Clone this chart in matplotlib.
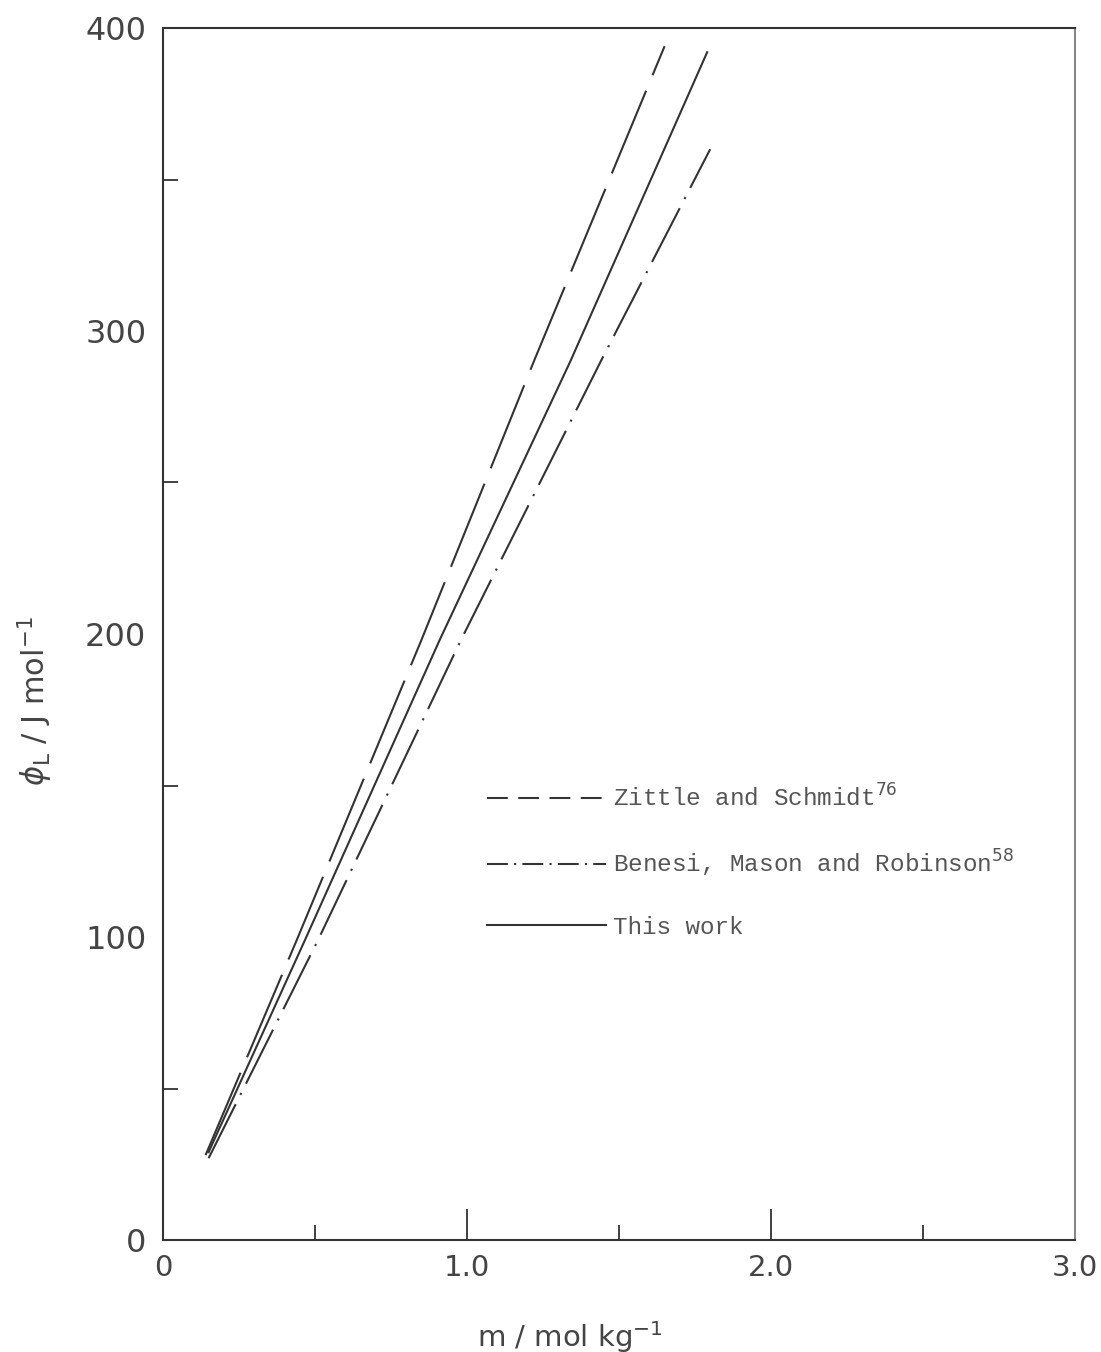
import numpy as np
import matplotlib.pyplot as plt
from matplotlib.lines import Line2D
from matplotlib.ticker import MultipleLocator

# phi_L against molality, three sources
m_zittle = [0.14, 0.44, 0.85, 1.22, 1.65]
phi_zittle = [28, 99, 198, 290, 394]

m_benesi = [0.15, 0.51, 0.98, 1.44, 1.80]
phi_benesi = [27, 99, 198, 290, 360]

m_this = [0.15, 0.467, 0.91, 1.34, 1.79]
phi_this = [29, 99, 198, 290, 392]

xticks = [0, 1.0, 2.0, 3.0]
xticklabels = ['0', '1.0', '2.0', '3.0']
yticks = [0, 100, 200, 300, 400]
yticklabels = ['0', '100', '200', '300', '400']

labels = ['Zittle and Schmidt$^{76}$',
          'Benesi, Mason and Robinson$^{58}$',
          'This work']

ink = '#333333'
lw = 1.5

fig = plt.figure(figsize=(11.01, 13.52), dpi=100)
ax = fig.add_axes([163/1101, 1 - 1240/1352, 912/1101, 1212/1352])

ax.plot(m_zittle, phi_zittle, color=ink, lw=lw, dashes=(43, 8))
ax.plot(m_benesi, phi_benesi, color=ink, lw=lw, dashes=(29, 5, 1, 5))
ax.plot(m_this, phi_this, color=ink, lw=lw)

ax.set_xlim(0, 3.0)
ax.set_ylim(0, 400)
ax.set_xticks(xticks)
ax.set_xticklabels(xticklabels)
ax.set_yticks(yticks)
ax.set_yticklabels(yticklabels)
ax.xaxis.set_minor_locator(MultipleLocator(0.5))
ax.yaxis.set_minor_locator(MultipleLocator(50))

ax.tick_params(axis='x', which='major', direction='in', length=22, width=1.3,
               color=ink, labelsize=21, labelcolor='#444444', pad=10)
ax.tick_params(axis='x', which='minor', direction='in', length=11, width=1.3, color=ink)
ax.tick_params(axis='y', which='major', direction='in', length=0, width=1.3,
               color=ink, labelsize=23, labelcolor='#444444', pad=12)
ax.tick_params(axis='y', which='minor', direction='in', length=11, width=1.3, color=ink)

for side, sp in ax.spines.items():
    sp.set_linewidth(1.5)
    sp.set_color(ink if side != 'right' else '#888888')

ax.set_xlabel('m / mol kg$^{-1}$', fontsize=21, color='#444444')
ax.xaxis.set_label_coords(0.446, -0.065)
ax.set_ylabel(r'$\phi_{\rm L}$ / J mol$^{-1}$', fontsize=22, color='#444444')
ax.yaxis.set_label_coords(-0.118, 0.445)

handles = [Line2D([], [], color=ink, lw=lw, dashes=(10, 5)),
           Line2D([], [], color=ink, lw=lw, dashes=(10, 3, 1, 3)),
           Line2D([], [], color=ink, lw=lw)]
leg = ax.legend(handles, labels, loc='upper left', bbox_to_anchor=(0.355, 0.376),
                frameon=False, borderpad=0, borderaxespad=0, handlelength=4.9,
                handletextpad=0.3, labelspacing=1.5,
                prop={'family': 'Liberation Mono', 'size': 17.5})
for t in leg.get_texts():
    t.set_color('#555555')

fig.savefig('out.png', dpi=100)
